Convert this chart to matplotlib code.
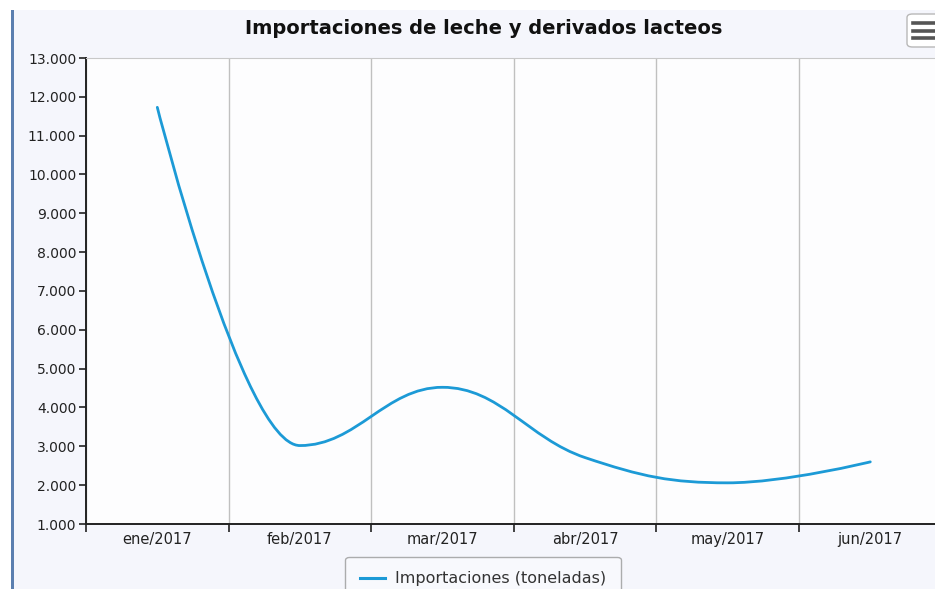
import numpy as np
import matplotlib.pyplot as plt
from matplotlib.path import Path
from matplotlib.patches import PathPatch, FancyBboxPatch, Rectangle
from matplotlib.lines import Line2D
from matplotlib.ticker import FuncFormatter, FixedLocator

# datos
meses = ["ene/2017", "feb/2017", "mar/2017", "abr/2017", "may/2017", "jun/2017"]
importaciones = [11730, 3020, 4520, 2710, 2060, 2600]
titulo = "Importaciones de leche y derivados lacteos"
serie = "Importaciones (toneladas)"

color_linea = "#1c9ad6"
fuente = ["DejaVu Sans"]

plt.rcParams["font.family"] = fuente


# curva spline estilo highcharts (smoothing 1.5)
def spline_path(xs, ys, smoothing=1.5):
    denom = smoothing + 1
    n = len(xs)
    left = [None] * n
    right = [None] * n
    for i in range(n):
        px, py = xs[i], ys[i]
        if i == 0 or i == n - 1:
            left[i] = (px, py)
            right[i] = (px, py)
            continue
        lx, ly = xs[i - 1], ys[i - 1]
        nx, ny = xs[i + 1], ys[i + 1]
        lcx = (smoothing * px + lx) / denom
        lcy = (smoothing * py + ly) / denom
        rcx = (smoothing * px + nx) / denom
        rcy = (smoothing * py + ny) / denom
        corr = ((rcy - lcy) * (rcx - px)) / (rcx - lcx) + py - rcy
        lcy += corr
        rcy += corr
        if lcy > ly and lcy > py:
            lcy = max(ly, py)
            rcy = 2 * py - lcy
        elif lcy < ly and lcy < py:
            lcy = min(ly, py)
            rcy = 2 * py - lcy
        if rcy > ny and rcy > py:
            rcy = max(ny, py)
            lcy = 2 * py - rcy
        elif rcy < ny and rcy < py:
            rcy = min(ny, py)
            lcy = 2 * py - rcy
        left[i] = (lcx, lcy)
        right[i] = (rcx, rcy)
    verts = [(xs[0], ys[0])]
    codes = [Path.MOVETO]
    for i in range(1, n):
        verts += [right[i - 1], left[i], (xs[i], ys[i])]
        codes += [Path.CURVE4] * 3
    return Path(verts, codes)


W, H = 935, 589
fig = plt.figure(figsize=(W / 100, H / 100), dpi=100, facecolor="white")

# fondo del contenedor y borde izquierdo
fig.patches.append(Rectangle((13 / W, 0), 1, 1 - 10 / H, transform=fig.transFigure,
                             facecolor="#f5f6fc", edgecolor="none", zorder=-3))
fig.patches.append(Rectangle((11 / W, 0), 2.5 / W, 1 - 10 / H, transform=fig.transFigure,
                             facecolor="#5b7fb0", edgecolor="none", zorder=-2))

x0, x1 = 86, 941.6
y0, y1 = 524, 58
ax = fig.add_axes([x0 / W, 1 - y0 / H, (x1 - x0) / W, (y0 - y1) / H])
ax.set_facecolor("#fdfdfe")

xs = np.arange(len(meses))
ax.add_patch(PathPatch(spline_path(xs, importaciones), facecolor="none",
                       edgecolor=color_linea, lw=2.0, zorder=3, capstyle="round"))

ax.set_xlim(-0.5, len(meses) - 0.5)
ax.set_ylim(1000, 13000)
ax.set_yticks(np.arange(1000, 13001, 1000))
ax.yaxis.set_major_formatter(FuncFormatter(lambda v, p: f"{int(v):,}".replace(",", ".")))
ax.set_xticks(xs)
ax.set_xticklabels(meses)
ax.xaxis.set_minor_locator(FixedLocator(np.arange(-0.5, len(meses), 1.0)))
ax.tick_params(axis="x", which="major", length=0, pad=6, labelsize=10.5, colors="#222222")
ax.tick_params(axis="x", which="minor", length=6, width=1.2, color="#222222")
ax.tick_params(axis="y", length=5, width=1.2, color="#222222", labelsize=10,
               labelcolor="#222222", pad=2)
ax.grid(axis="x", which="minor", color="#c0c0c0", lw=1)
ax.grid(axis="x", which="major", visible=False)
ax.grid(axis="y", visible=False)
for s in ["left", "bottom"]:
    ax.spines[s].set_color("#222222")
    ax.spines[s].set_linewidth(1.4)
ax.spines["top"].set_color("#c8c8c8")
ax.spines["right"].set_visible(False)

fig.text(484 / W, 1 - 29 / H, titulo, ha="center", va="center", fontsize=14,
         fontweight="bold", color="#111111")

# boton del menu
fig.patches.append(FancyBboxPatch((907 / W, 1 - 47 / H), 40 / W, 33 / H,
                                  boxstyle="round,pad=0,rounding_size=0.006",
                                  transform=fig.transFigure, facecolor="white",
                                  edgecolor="#b8b8b8", lw=1, zorder=5))
for yy in [23, 31, 38]:
    fig.lines.append(Line2D([913 / W, 935 / W], [1 - yy / H] * 2, transform=fig.transFigure,
                            color="#555555", lw=2.6, zorder=6))

leg = ax.legend([Line2D([], [], color=color_linea, lw=2.2)], [serie], loc="upper center",
                bbox_to_anchor=(483 / W, 1 - 557 / H), bbox_transform=fig.transFigure,
                frameon=True, fancybox=True, fontsize=11.5, handlelength=1.6,
                borderpad=0.9, handletextpad=0.6, borderaxespad=0)
leg.get_frame().set_edgecolor("#999999")
leg.get_frame().set_facecolor("#fafafe")
for t in leg.get_texts():
    t.set_color("#333333")

fig.savefig("out.png", dpi=100, facecolor=fig.get_facecolor())
